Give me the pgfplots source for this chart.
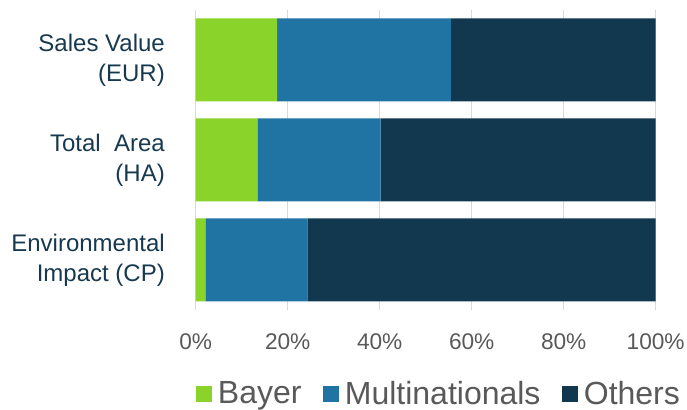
\documentclass[border=0pt]{standalone}
\usepackage{pgfplots}
\pgfplotsset{compat=1.18}
\usepackage{fontspec}
\setmainfont{Liberation Sans}
\definecolor{bayer}{HTML}{89D32B}
\definecolor{multi}{HTML}{2074A4}
\definecolor{others}{HTML}{12384F}
\definecolor{txtgray}{HTML}{595959}
\definecolor{navy}{HTML}{17394F}
\definecolor{gridgray}{HTML}{D9D9D9}
\begin{document}
\begin{tikzpicture}
\begin{axis}[
  scale only axis,
  width=345pt, height=225pt,
  xbar stacked,
  bar width=62.25pt,
  xmin=0, xmax=100,
  ymin=-0.5, ymax=2.5,
  xtick={0,20,40,60,80,100},
  xticklabels={0\%,20\%,40\%,60\%,80\%,100\%},
  ytick={0,1,2},
  yticklabels={{Environmental\\Impact (CP)},{Total\ \ Area\\(HA)},{Sales Value\\(EUR)}},
  xmajorgrids,
  grid style={gridgray, line width=0.8pt},
  axis line style={draw=none},
  major tick style={draw=none},
  xticklabel style={font=\fontsize{17}{19}\selectfont, text=txtgray, inner sep=0pt, yshift=-17.5pt},
  yticklabel style={font=\fontsize{18}{22.5}\selectfont, text=navy, align=right, inner sep=0pt, xshift=-23pt},
  legend columns=3,
  legend style={draw=none, fill=none, at={(rel axis cs:0,-0.280)}, anchor=west,
    inner sep=0pt, font=\fontsize{24}{27}\selectfont, text=txtgray,
    /tikz/every odd column/.append style={column sep=2.5pt},
    /tikz/every even column/.append style={column sep=14pt}},
  legend image code/.code={\fill[#1] (0pt,-6pt) rectangle (12pt,6pt);},
]
\addplot[fill=bayer, draw=none] coordinates {(2.1,0) (13.4,1) (17.7,2)};
\addlegendentry{Bayer}
\addplot[fill=multi, draw=none] coordinates {(22.2,0) (26.8,1) (37.8,2)};
\addlegendentry{Multinationals}
\addplot[fill=others, draw=none] coordinates {(75.7,0) (59.8,1) (44.5,2)};
\addlegendentry{Others}
\end{axis}
\pgfresetboundingbox
\path[use as bounding box] (-146.8pt,-75pt) rectangle (368.5pt,232.5pt);
\end{tikzpicture}
\end{document}
